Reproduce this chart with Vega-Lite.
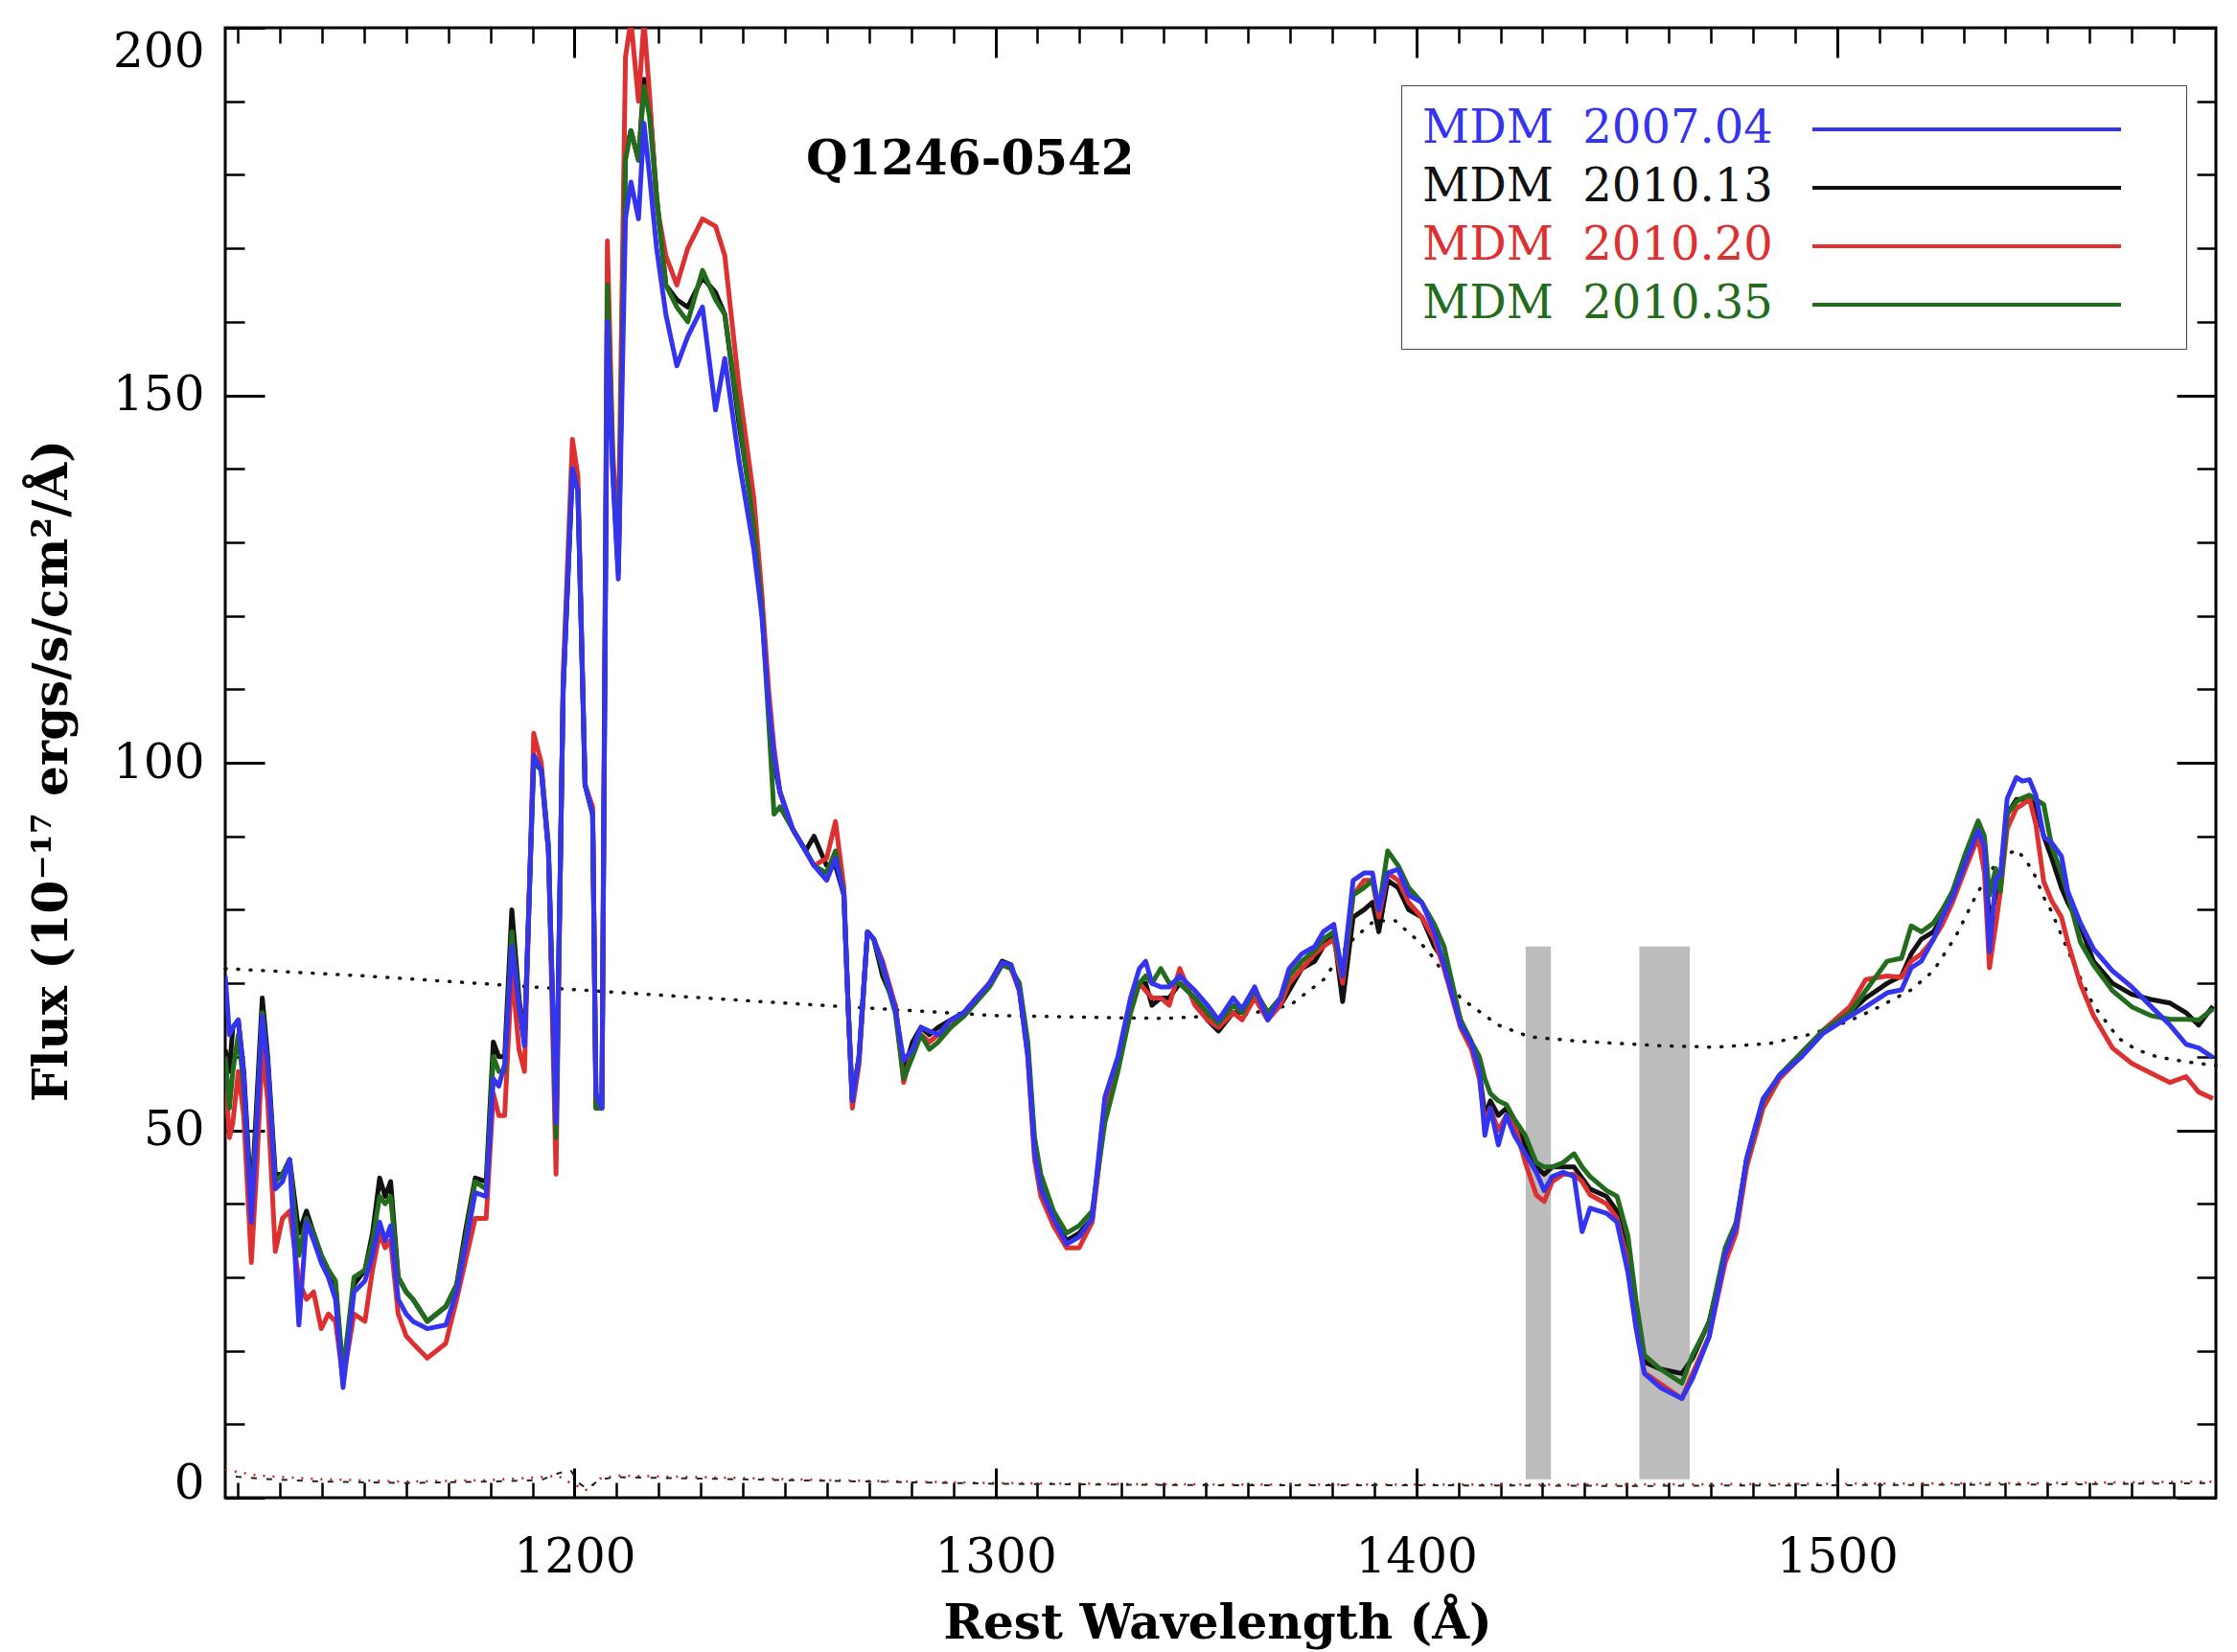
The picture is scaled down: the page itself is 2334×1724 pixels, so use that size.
{
  "$schema": "https://vega.github.io/schema/vega-lite/v6.json",
  "width": 2077,
  "height": 1534,
  "autosize": {"type": "none"},
  "padding": {"left": 235, "top": 29, "right": 22, "bottom": 161},
  "background": "white",
  "config": {
    "view": {"stroke": "black", "strokeWidth": 3},
    "axis": {"grid": false, "domain": false, "tickColor": "black", "labelColor": "black", "titleColor": "black", "zindex": 1}
  },
  "datasets": {
    "spec": [
      {"w":1117.0,"s1":71,"s2":61,"s3":57,"s4":60},
      {"w":1118.0,"s1":63,"s2":58,"s3":49,"s4":53},
      {"w":1118.8,"s1":64,"s2":64,"s3":51,"s4":58},
      {"w":1120.1,"s1":65,"s2":65,"s3":58,"s4":63},
      {"w":1121.4,"s1":57.5,"s2":58,"s3":52,"s4":56},
      {"w":1123.2,"s1":37.5,"s2":40,"s3":32,"s4":39},
      {"w":1124.5,"s1":51,"s2":54,"s3":45,"s4":52},
      {"w":1125.8,"s1":65.5,"s2":68,"s3":61,"s4":66},
      {"w":1127.1,"s1":59,"s2":60,"s3":54,"s4":59},
      {"w":1128.9,"s1":42,"s2":44,"s3":33.5,"s4":43},
      {"w":1130.6,"s1":43,"s2":44,"s3":38,"s4":44},
      {"w":1132.3,"s1":46,"s2":46,"s3":39,"s4":46},
      {"w":1134.5,"s1":23.5,"s2":36,"s3":29.5,"s4":33},
      {"w":1136.3,"s1":37.5,"s2":39,"s3":27,"s4":38},
      {"w":1138.0,"s1":35,"s2":36,"s3":28,"s4":36},
      {"w":1139.8,"s1":32,"s2":33,"s3":23,"s4":33},
      {"w":1141.5,"s1":30,"s2":31,"s3":25,"s4":31},
      {"w":1143.2,"s1":27,"s2":29,"s3":24,"s4":29.5},
      {"w":1145.0,"s1":15,"s2":16,"s3":16,"s4":17},
      {"w":1147.6,"s1":28,"s2":29,"s3":25,"s4":30},
      {"w":1150.2,"s1":29.5,"s2":31,"s3":24,"s4":31},
      {"w":1152.0,"s1":33,"s2":36,"s3":31,"s4":35},
      {"w":1153.7,"s1":37.5,"s2":43.5,"s3":36,"s4":41},
      {"w":1155.0,"s1":35,"s2":41,"s3":34,"s4":40},
      {"w":1156.3,"s1":37,"s2":43,"s3":35,"s4":41},
      {"w":1158.1,"s1":27,"s2":30,"s3":25,"s4":30},
      {"w":1160.0,"s1":25,"s2":28,"s3":22,"s4":28},
      {"w":1161.6,"s1":24,"s2":27,"s3":21,"s4":27},
      {"w":1165.0,"s1":23,"s2":24,"s3":19,"s4":24},
      {"w":1169.4,"s1":23.5,"s2":26,"s3":21,"s4":26},
      {"w":1172.0,"s1":28,"s2":29,"s3":27,"s4":29},
      {"w":1174.0,"s1":34,"s2":36,"s3":32,"s4":35},
      {"w":1176.4,"s1":41.5,"s2":43.5,"s3":38,"s4":43},
      {"w":1179.0,"s1":41,"s2":43,"s3":38,"s4":42},
      {"w":1180.7,"s1":57,"s2":62,"s3":55,"s4":60},
      {"w":1182.0,"s1":56,"s2":60,"s3":52,"s4":58},
      {"w":1183.4,"s1":59,"s2":60,"s3":52,"s4":58},
      {"w":1185.1,"s1":75,"s2":80,"s3":72,"s4":77},
      {"w":1186.8,"s1":67,"s2":68,"s3":61,"s4":67},
      {"w":1188.1,"s1":61.5,"s2":62,"s3":58,"s4":62},
      {"w":1190.3,"s1":101,"s2":101,"s3":104,"s4":100},
      {"w":1192.1,"s1":99,"s2":99,"s3":100,"s4":99},
      {"w":1193.8,"s1":88,"s2":88,"s3":88,"s4":89},
      {"w":1195.6,"s1":51,"s2":50,"s3":44,"s4":49},
      {"w":1197.3,"s1":110,"s2":110,"s3":112,"s4":110},
      {"w":1199.5,"s1":140,"s2":140,"s3":144,"s4":140},
      {"w":1200.8,"s1":137,"s2":137,"s3":139,"s4":137},
      {"w":1202.5,"s1":97,"s2":97,"s3":97,"s4":97},
      {"w":1204.3,"s1":93,"s2":93,"s3":94,"s4":93},
      {"w":1205.1,"s1":55,"s2":53,"s3":54,"s4":53},
      {"w":1206.5,"s1":53,"s2":53,"s3":54,"s4":53},
      {"w":1207.8,"s1":160,"s2":163,"s3":171,"s4":165},
      {"w":1209.1,"s1":139,"s2":140,"s3":142,"s4":140},
      {"w":1210.4,"s1":125,"s2":126,"s3":130,"s4":126},
      {"w":1212.1,"s1":174,"s2":183,"s3":196,"s4":182},
      {"w":1213.4,"s1":179,"s2":186,"s3":201,"s4":186},
      {"w":1215.2,"s1":174,"s2":182,"s3":190,"s4":182},
      {"w":1216.5,"s1":187,"s2":193,"s3":201,"s4":192},
      {"w":1217.8,"s1":180,"s2":190,"s3":191,"s4":188},
      {"w":1219.5,"s1":170,"s2":177,"s3":176,"s4":177},
      {"w":1221.7,"s1":161,"s2":165,"s3":169,"s4":165},
      {"w":1224.3,"s1":154,"s2":163,"s3":165,"s4":162},
      {"w":1226.9,"s1":158,"s2":162,"s3":170,"s4":160},
      {"w":1230.4,"s1":162,"s2":166,"s3":174,"s4":167},
      {"w":1233.5,"s1":148,"s2":164,"s3":173,"s4":163},
      {"w":1235.7,"s1":155,"s2":161,"s3":169,"s4":161},
      {"w":1239.1,"s1":141,"s2":146,"s3":151,"s4":147},
      {"w":1242.6,"s1":129,"s2":133,"s3":136,"s4":132},
      {"w":1244.5,"s1":120,"s2":121,"s3":123,"s4":121},
      {"w":1246.1,"s1":108,"s2":108,"s3":110,"s4":106},
      {"w":1247.4,"s1":101,"s2":100,"s3":102,"s4":93},
      {"w":1248.8,"s1":96,"s2":96,"s3":96,"s4":94},
      {"w":1251.8,"s1":91,"s2":91,"s3":91,"s4":91},
      {"w":1254.9,"s1":88,"s2":88,"s3":88,"s4":88},
      {"w":1256.9,"s1":86,"s2":90,"s3":86,"s4":86},
      {"w":1259.9,"s1":84,"s2":86,"s3":87,"s4":85},
      {"w":1262.0,"s1":87,"s2":86,"s3":92,"s4":88},
      {"w":1264.0,"s1":82,"s2":82,"s3":83,"s4":82},
      {"w":1265.0,"s1":67,"s2":67,"s3":67,"s4":67},
      {"w":1266.0,"s1":54,"s2":54,"s3":53,"s4":54},
      {"w":1267.6,"s1":60,"s2":60,"s3":59,"s4":60},
      {"w":1269.6,"s1":77,"s2":77,"s3":77,"s4":77},
      {"w":1271.1,"s1":76,"s2":76,"s3":76,"s4":76},
      {"w":1273.2,"s1":72.5,"s2":71,"s3":73,"s4":72},
      {"w":1276.2,"s1":66.5,"s2":67,"s3":67,"s4":66},
      {"w":1278.2,"s1":59.5,"s2":58,"s3":56.5,"s4":57},
      {"w":1280.3,"s1":61,"s2":62,"s3":61,"s4":60},
      {"w":1282.3,"s1":64,"s2":64,"s3":63,"s4":63},
      {"w":1284.3,"s1":63.5,"s2":63,"s3":62,"s4":61},
      {"w":1286.4,"s1":63,"s2":64,"s3":63,"s4":62},
      {"w":1289.4,"s1":65,"s2":65,"s3":64,"s4":64},
      {"w":1292.5,"s1":66,"s2":66,"s3":66,"s4":65.5},
      {"w":1295.5,"s1":68,"s2":68,"s3":68,"s4":67.5},
      {"w":1298.6,"s1":70,"s2":70,"s3":70,"s4":69.5},
      {"w":1301.6,"s1":72.8,"s2":73,"s3":72.5,"s4":72.5},
      {"w":1303.7,"s1":72.5,"s2":72.5,"s3":72,"s4":72},
      {"w":1305.7,"s1":69,"s2":69,"s3":69,"s4":70},
      {"w":1307.7,"s1":60,"s2":61,"s3":60,"s4":62},
      {"w":1309.3,"s1":47,"s2":48,"s3":46,"s4":49},
      {"w":1310.8,"s1":42,"s2":42,"s3":41,"s4":44},
      {"w":1313.8,"s1":38,"s2":38,"s3":37,"s4":39},
      {"w":1316.9,"s1":34.5,"s2":35,"s3":34,"s4":36},
      {"w":1319.9,"s1":35.5,"s2":36,"s3":34,"s4":37},
      {"w":1323.0,"s1":38,"s2":38,"s3":37.5,"s4":39},
      {"w":1326.0,"s1":54.5,"s2":53,"s3":52,"s4":51},
      {"w":1329.1,"s1":60,"s2":59,"s3":59,"s4":58},
      {"w":1332.1,"s1":68,"s2":67,"s3":66,"s4":66},
      {"w":1334.2,"s1":72,"s2":70,"s3":70,"s4":70},
      {"w":1335.7,"s1":73,"s2":70,"s3":69,"s4":71},
      {"w":1337.2,"s1":70,"s2":67,"s3":68,"s4":70},
      {"w":1339.3,"s1":69.5,"s2":68,"s3":68,"s4":72},
      {"w":1341.3,"s1":69.5,"s2":68,"s3":67,"s4":70},
      {"w":1343.8,"s1":71,"s2":70,"s3":72,"s4":70},
      {"w":1347.4,"s1":69,"s2":68,"s3":67,"s4":68},
      {"w":1350.4,"s1":67,"s2":65,"s3":65,"s4":66},
      {"w":1353.0,"s1":65,"s2":63.5,"s3":64,"s4":64.5},
      {"w":1356.5,"s1":68,"s2":66,"s3":66,"s4":67},
      {"w":1358.6,"s1":66.5,"s2":66,"s3":65,"s4":66},
      {"w":1361.6,"s1":69.5,"s2":69,"s3":68,"s4":69},
      {"w":1364.7,"s1":65,"s2":66,"s3":65,"s4":66},
      {"w":1367.7,"s1":68,"s2":67,"s3":67,"s4":68},
      {"w":1369.8,"s1":72,"s2":69,"s3":70,"s4":71},
      {"w":1372.8,"s1":74,"s2":72,"s3":72,"s4":73},
      {"w":1375.9,"s1":75,"s2":73,"s3":74,"s4":74.5},
      {"w":1377.9,"s1":77,"s2":75,"s3":75,"s4":76},
      {"w":1380.4,"s1":78,"s2":77,"s3":76,"s4":77},
      {"w":1382.5,"s1":71,"s2":67.5,"s3":70,"s4":71},
      {"w":1385.0,"s1":84,"s2":79,"s3":82,"s4":82},
      {"w":1387.6,"s1":85,"s2":80,"s3":84,"s4":83},
      {"w":1389.6,"s1":85,"s2":81,"s3":84,"s4":84},
      {"w":1391.1,"s1":80,"s2":77,"s3":79,"s4":80},
      {"w":1393.2,"s1":85,"s2":84,"s3":85,"s4":88},
      {"w":1395.7,"s1":85.5,"s2":83,"s3":84,"s4":86},
      {"w":1398.2,"s1":82,"s2":80,"s3":81,"s4":83},
      {"w":1401.3,"s1":81,"s2":79,"s3":79,"s4":81},
      {"w":1404.3,"s1":77,"s2":75,"s3":76,"s4":78},
      {"w":1406.6,"s1":72.5,"s2":73,"s3":72,"s4":75},
      {"w":1410.5,"s1":64.3,"s2":65,"s3":64,"s4":65},
      {"w":1413.1,"s1":61.8,"s2":62,"s3":61,"s4":62},
      {"w":1415.0,"s1":58,"s2":58,"s3":57,"s4":60},
      {"w":1416.3,"s1":49.3,"s2":52,"s3":51,"s4":57},
      {"w":1417.6,"s1":53,"s2":54,"s3":53,"s4":55},
      {"w":1419.5,"s1":48,"s2":52,"s3":50,"s4":54},
      {"w":1421.4,"s1":52,"s2":53,"s3":52,"s4":53.5},
      {"w":1423.3,"s1":49.3,"s2":51,"s3":51,"s4":51.5},
      {"w":1425.9,"s1":46.8,"s2":48,"s3":45.6,"s4":49.3},
      {"w":1428.5,"s1":44.3,"s2":45,"s3":41.2,"s4":45.6},
      {"w":1430.4,"s1":41.8,"s2":44,"s3":40.3,"s4":45},
      {"w":1432.3,"s1":43.7,"s2":45,"s3":43,"s4":45},
      {"w":1434.9,"s1":44.3,"s2":45,"s3":44,"s4":45.6},
      {"w":1437.5,"s1":43.7,"s2":45,"s3":44,"s4":46.8},
      {"w":1439.4,"s1":36.2,"s2":43.5,"s3":43,"s4":45},
      {"w":1441.3,"s1":39.4,"s2":42,"s3":41.2,"s4":43.7},
      {"w":1445.2,"s1":38.7,"s2":41,"s3":40,"s4":41.8},
      {"w":1447.7,"s1":37.5,"s2":39,"s3":38,"s4":41},
      {"w":1450.3,"s1":30.6,"s2":33,"s3":32,"s4":35.6},
      {"w":1452.2,"s1":23.1,"s2":25,"s3":23.5,"s4":26.9},
      {"w":1454.2,"s1":16.9,"s2":18.5,"s3":17,"s4":19.4},
      {"w":1458.0,"s1":15,"s2":17.5,"s3":15.5,"s4":17.5},
      {"w":1463.1,"s1":13.5,"s2":16.9,"s3":13.5,"s4":15.6},
      {"w":1465.7,"s1":16.3,"s2":19,"s3":17,"s4":19.5},
      {"w":1469.6,"s1":21.9,"s2":24,"s3":22,"s4":23.8},
      {"w":1473.4,"s1":33.1,"s2":33,"s3":32,"s4":34},
      {"w":1476.0,"s1":36.9,"s2":37,"s3":36,"s4":37.5},
      {"w":1478.5,"s1":46.2,"s2":46,"s3":45,"s4":46},
      {"w":1482.4,"s1":54.3,"s2":54,"s3":53,"s4":54},
      {"w":1486.3,"s1":57.4,"s2":57.5,"s3":57,"s4":57.5},
      {"w":1491.4,"s1":59.9,"s2":60,"s3":60,"s4":60.5},
      {"w":1496.5,"s1":63.1,"s2":63.5,"s3":63.5,"s4":63.5},
      {"w":1503.0,"s1":65.5,"s2":66,"s3":66.8,"s4":66},
      {"w":1506.8,"s1":66.8,"s2":68,"s3":70.5,"s4":69},
      {"w":1511.9,"s1":68.7,"s2":70,"s3":71,"s4":73},
      {"w":1515.3,"s1":69.1,"s2":71,"s3":70.8,"s4":73.4},
      {"w":1517.6,"s1":72.1,"s2":74,"s3":73,"s4":77.8},
      {"w":1520.0,"s1":73,"s2":76,"s3":74,"s4":77},
      {"w":1522.9,"s1":76,"s2":77,"s3":76,"s4":78.2},
      {"w":1525.0,"s1":79,"s2":79,"s3":78,"s4":80},
      {"w":1527.4,"s1":81.7,"s2":82,"s3":81,"s4":82.5},
      {"w":1530.5,"s1":86.4,"s2":86,"s3":85.6,"s4":87.7},
      {"w":1533.5,"s1":90.8,"s2":90,"s3":89.9,"s4":92.1},
      {"w":1535.0,"s1":88.6,"s2":88,"s3":85,"s4":90},
      {"w":1536.2,"s1":74.3,"s2":78,"s3":72.1,"s4":82},
      {"w":1537.7,"s1":84.3,"s2":82,"s3":78,"s4":85.6},
      {"w":1538.8,"s1":84.7,"s2":83,"s3":82.5,"s4":82.5},
      {"w":1540.4,"s1":95.1,"s2":93,"s3":91,"s4":93},
      {"w":1542.6,"s1":98,"s2":95,"s3":93.8,"s4":94.7},
      {"w":1544.0,"s1":97.5,"s2":95,"s3":94.3,"s4":95.2},
      {"w":1545.7,"s1":97.7,"s2":95.5,"s3":95.1,"s4":95.6},
      {"w":1547.2,"s1":95.6,"s2":94,"s3":91.7,"s4":95},
      {"w":1549.1,"s1":89.9,"s2":90,"s3":83.8,"s4":94.3},
      {"w":1551.0,"s1":89.1,"s2":87,"s3":81.2,"s4":88.6},
      {"w":1553.3,"s1":87.3,"s2":83,"s3":79,"s4":85},
      {"w":1554.8,"s1":82.5,"s2":81,"s3":75.6,"s4":82.1},
      {"w":1557.8,"s1":78.2,"s2":77.8,"s3":69.9,"s4":75.6},
      {"w":1560.9,"s1":74.7,"s2":73,"s3":65.6,"s4":72.5},
      {"w":1565.4,"s1":71.7,"s2":70,"s3":61.2,"s4":69},
      {"w":1570.0,"s1":69.5,"s2":68.5,"s3":59.1,"s4":66.8},
      {"w":1574.5,"s1":66.9,"s2":67.8,"s3":57.8,"s4":65.6},
      {"w":1579.1,"s1":64.3,"s2":67.3,"s3":56.5,"s4":65.1},
      {"w":1582.9,"s1":61.7,"s2":66,"s3":57.3,"s4":65.1},
      {"w":1585.9,"s1":61.2,"s2":64.3,"s3":55.2,"s4":65},
      {"w":1589.3,"s1":59.9,"s2":66.9,"s3":54.3,"s4":66.5}
    ],
    "cont": [
      {"w":1117,"f":72},{"w":1150,"f":71},{"w":1190,"f":69.5},{"w":1250,"f":67.3},{"w":1300,"f":65.6},
      {"w":1340,"f":65.2},{"w":1360,"f":65.8},{"w":1370,"f":67},{"w":1378,"f":70.5},{"w":1384,"f":75.5},
      {"w":1390,"f":78.5},{"w":1395,"f":78.5},{"w":1400,"f":76},{"w":1403,"f":74.3},{"w":1410.5,"f":68},
      {"w":1419.5,"f":64.3},{"w":1427,"f":62.7},{"w":1439,"f":62.1},{"w":1458,"f":61.5},{"w":1471,"f":61.3},
      {"w":1484,"f":61.8},{"w":1494,"f":63.1},{"w":1503,"f":64.9},{"w":1509,"f":66.5},{"w":1517.6,"f":69.1},
      {"w":1522.9,"f":71.7},{"w":1528.2,"f":76.4},{"w":1532.8,"f":81.7},{"w":1536,"f":85},{"w":1539,"f":87},
      {"w":1542.6,"f":88.2},{"w":1544.9,"f":86.7},{"w":1546.8,"f":84.9},{"w":1549.1,"f":81.7},{"w":1551,"f":79.7},
      {"w":1553.3,"f":76.5},{"w":1556.3,"f":72.5},{"w":1560.9,"f":67},{"w":1566.9,"f":62.5},{"w":1571,"f":61},
      {"w":1576,"f":60},{"w":1583,"f":59.3},{"w":1590,"f":58.8}
    ],
    "err": [
      {"w":1117,"e1":3.8,"e2":3.0},{"w":1125,"e1":3.0,"e2":2.6},{"w":1140,"e1":2.5,"e2":2.2},
      {"w":1160,"e1":2.2,"e2":2.0},{"w":1180,"e1":2.4,"e2":2.2},{"w":1192,"e1":2.8,"e2":2.4},
      {"w":1196,"e1":3.0,"e2":3.3},{"w":1199,"e1":2.0,"e2":3.8},{"w":1201,"e1":1.5,"e2":2.0},
      {"w":1203,"e1":1.0,"e2":1.2},{"w":1206,"e1":2.6,"e2":2.5},{"w":1210,"e1":3.0,"e2":2.8},
      {"w":1230,"e1":2.8,"e2":2.6},{"w":1260,"e1":2.4,"e2":2.3},{"w":1300,"e1":2.0,"e2":1.9},
      {"w":1350,"e1":1.8,"e2":1.7},{"w":1400,"e1":1.8,"e2":1.7},{"w":1450,"e1":1.8,"e2":1.6},
      {"w":1500,"e1":1.9,"e2":1.7},{"w":1550,"e1":2.0,"e2":1.8},{"w":1590,"e1":2.2,"e2":2.0}
    ],
    "bands": [
      {"lo":1426,"hi":1432,"bot":2.5,"top":75},
      {"lo":1453,"hi":1465,"bot":2.5,"top":75}
    ]
  },
  "layer": [
    {
      "data": {"name": "bands"},
      "mark": {"type": "rect", "color": "#bcbcbc"},
      "encoding": {
        "x": {"field": "lo", "type": "quantitative",
              "scale": {"domain": [1117, 1590], "nice": false, "zero": false},
              "axis": {"orient": "bottom", "values": [1200, 1300, 1400, 1500], "format": "d", "tickSize": -31, "tickWidth": 3,
                       "labelPadding": 68, "labelFont": "DejaVu Serif", "labelFontSize": 50, "labelFlush": false,
                       "title": "Rest Wavelength (Å)", "titleFont": "DejaVu Serif", "titleFontSize": 50, "titleFontWeight": "bold",
                       "titleX": 1035, "titleY": 146, "titleBaseline": "alphabetic", "titleAlign": "center"}},
        "x2": {"field": "hi"},
        "y": {"field": "bot", "type": "quantitative",
              "scale": {"domain": [0, 200], "nice": false, "zero": false},
              "axis": {"orient": "left", "values": [0, 50, 100, 150, 200], "tickSize": -41, "tickWidth": 3,
                       "labelPadding": 63, "labelFont": "DejaVu Serif", "labelFontSize": 50, "labelFlush": false,
                       "labelBaseline": {"expr": "datum.value == 0 ? 'alphabetic' : (datum.value == 200 ? 'top' : 'middle')"},
                       "title": "Flux (10⁻¹⁷ ergs/s/cm²/Å)", "titleFont": "DejaVu Serif", "titleFontSize": 50, "titleFontWeight": "bold",
                       "titleX": -181, "titleY": 775, "titleAngle": -90, "titleBaseline": "middle", "titleAlign": "center"}},
        "y2": {"field": "top"}
      }
    },
    {
      "data": {"name": "cont"},
      "mark": {"type": "line", "color": "#111111", "strokeWidth": 3.5, "strokeDash": [1, 12], "strokeCap": "round"},
      "encoding": {
        "x": {"field": "w", "type": "quantitative",
              "scale": {"domain": [1117, 1590], "nice": false, "zero": false},
              "axis": {"orient": "bottom", "values": [1120,1130,1140,1150,1160,1170,1180,1190,1210,1220,1230,1240,1250,1260,1270,1280,1290,1310,1320,1330,1340,1350,1360,1370,1380,1390,1410,1420,1430,1440,1450,1460,1470,1480,1490,1510,1520,1530,1540,1550,1560,1570,1580],
                       "tickSize": -16, "tickWidth": 2.5, "labels": false, "title": null}},
        "y": {"field": "f", "type": "quantitative",
              "scale": {"domain": [0, 200], "nice": false, "zero": false},
              "axis": {"orient": "left", "values": [10,20,30,40,60,70,80,90,110,120,130,140,160,170,180,190],
                       "tickSize": -20, "tickWidth": 2.5, "labels": false, "title": null}}
      }
    },
    {
      "data": {"name": "err"},
      "mark": {"type": "line", "color": "#cc2222", "strokeWidth": 2.5, "strokeDash": [2, 8]},
      "encoding": {
        "x": {"field": "w", "type": "quantitative",
              "scale": {"domain": [1117, 1590], "nice": false, "zero": false},
              "axis": {"orient": "top", "values": [1200, 1300, 1400, 1500], "tickSize": -31, "tickWidth": 3, "labels": false, "title": null}},
        "y": {"field": "e1", "type": "quantitative",
              "scale": {"domain": [0, 200], "nice": false, "zero": false},
              "axis": {"orient": "right", "values": [0, 50, 100, 150, 200], "tickSize": -41, "tickWidth": 3, "labels": false, "title": null}}
      }
    },
    {
      "data": {"name": "err"},
      "mark": {"type": "line", "color": "#222222", "strokeWidth": 2, "strokeDash": [6, 10], "strokeDashOffset": 5},
      "encoding": {
        "x": {"field": "w", "type": "quantitative",
              "scale": {"domain": [1117, 1590], "nice": false, "zero": false},
              "axis": {"orient": "top", "values": [1120,1130,1140,1150,1160,1170,1180,1190,1210,1220,1230,1240,1250,1260,1270,1280,1290,1310,1320,1330,1340,1350,1360,1370,1380,1390,1410,1420,1430,1440,1450,1460,1470,1480,1490,1510,1520,1530,1540,1550,1560,1570,1580],
                       "tickSize": -16, "tickWidth": 2.5, "labels": false, "title": null}},
        "y": {"field": "e2", "type": "quantitative",
              "scale": {"domain": [0, 200], "nice": false, "zero": false},
              "axis": {"orient": "right", "values": [10,20,30,40,60,70,80,90,110,120,130,140,160,170,180,190],
                       "tickSize": -20, "tickWidth": 2.5, "labels": false, "title": null}}
      }
    },
    {
      "data": {"name": "spec"},
      "transform": [{"fold": ["s2"], "as": ["series", "flux"]}],
      "mark": {"type": "line", "strokeWidth": 5, "strokeJoin": "round", "clip": true},
      "encoding": {
        "x": {"field": "w", "type": "quantitative", "scale": {"domain": [1117, 1590], "nice": false, "zero": false}, "axis": null},
        "y": {"field": "flux", "type": "quantitative", "scale": {"domain": [0, 200], "nice": false, "zero": false}, "axis": null},
        "color": {"field": "series", "type": "nominal",
                  "scale": {"domain": ["s1", "s2", "s3", "s4"], "range": ["#3434ee", "#111111", "#dd3030", "#236c1d"]},
                  "legend": {
                    "orient": "none", "legendX": 1227, "legendY": 60, "title": null,
                    "symbolType": "M-1,0L1,0M1.236,0", "symbolSize": 103684, "symbolStrokeWidth": 4,
                    "labelFont": "DejaVu Serif", "labelFontSize": 48, "labelLimit": 2000,
                    "labelExpr": "{'s1':'MDM\u00a0\u00a02007.04','s2':'MDM\u00a0\u00a02010.13','s3':'MDM\u00a0\u00a02010.20','s4':'MDM\u00a0\u00a02010.35'}[datum.value]",
                    "padding": 22, "rowPadding": 13,
                    "strokeColor": "#444444", "fillColor": "white",
                    "encode": {
                      "labels": {"update": {"x": {"value": 0}, "y": {"value": 24}, "align": {"value": "left"}, "baseline": {"value": "middle"}, "fill": {"scale": "color", "field": "value"}}},
                      "symbols": {"update": {"x": {"value": 568}, "y": {"value": 24}, "stroke": {"scale": "color", "field": "value"}, "strokeWidth": {"value": 4}, "fill": {"value": "transparent"}, "opacity": {"value": 1}}}
                    }
                  }}
      }
    },
    {
      "data": {"name": "spec"},
      "transform": [{"fold": ["s3"], "as": ["series", "flux"]}],
      "mark": {"type": "line", "strokeWidth": 5, "strokeJoin": "round", "clip": true},
      "encoding": {
        "x": {"field": "w", "type": "quantitative", "scale": {"domain": [1117, 1590], "nice": false, "zero": false}, "axis": null},
        "y": {"field": "flux", "type": "quantitative", "scale": {"domain": [0, 200], "nice": false, "zero": false}, "axis": null},
        "color": {"field": "series", "type": "nominal"}
      }
    },
    {
      "data": {"name": "spec"},
      "transform": [{"fold": ["s4"], "as": ["series", "flux"]}],
      "mark": {"type": "line", "strokeWidth": 5, "strokeJoin": "round", "clip": true},
      "encoding": {
        "x": {"field": "w", "type": "quantitative", "scale": {"domain": [1117, 1590], "nice": false, "zero": false}, "axis": null},
        "y": {"field": "flux", "type": "quantitative", "scale": {"domain": [0, 200], "nice": false, "zero": false}, "axis": null},
        "color": {"field": "series", "type": "nominal"}
      }
    },
    {
      "data": {"name": "spec"},
      "transform": [{"fold": ["s1"], "as": ["series", "flux"]}],
      "mark": {"type": "line", "strokeWidth": 5, "strokeJoin": "round", "clip": true},
      "encoding": {
        "x": {"field": "w", "type": "quantitative", "scale": {"domain": [1117, 1590], "nice": false, "zero": false}, "axis": null},
        "y": {"field": "flux", "type": "quantitative", "scale": {"domain": [0, 200], "nice": false, "zero": false}, "axis": null},
        "color": {"field": "series", "type": "nominal"}
      }
    },
    {
      "data": {"values": [{}]},
      "mark": {"type": "text", "font": "DejaVu Serif", "fontSize": 50, "fontWeight": "bold", "align": "center", "baseline": "middle", "color": "black"},
      "encoding": {
        "x": {"datum": 1294, "type": "quantitative", "scale": {"domain": [1117, 1590], "nice": false, "zero": false}, "axis": null},
        "y": {"datum": 182, "type": "quantitative", "scale": {"domain": [0, 200], "nice": false, "zero": false}, "axis": null},
        "text": {"value": "Q1246-0542"}
      }
    }
  ],
  "resolve": {"axis": {"x": "independent", "y": "independent"}}
}
